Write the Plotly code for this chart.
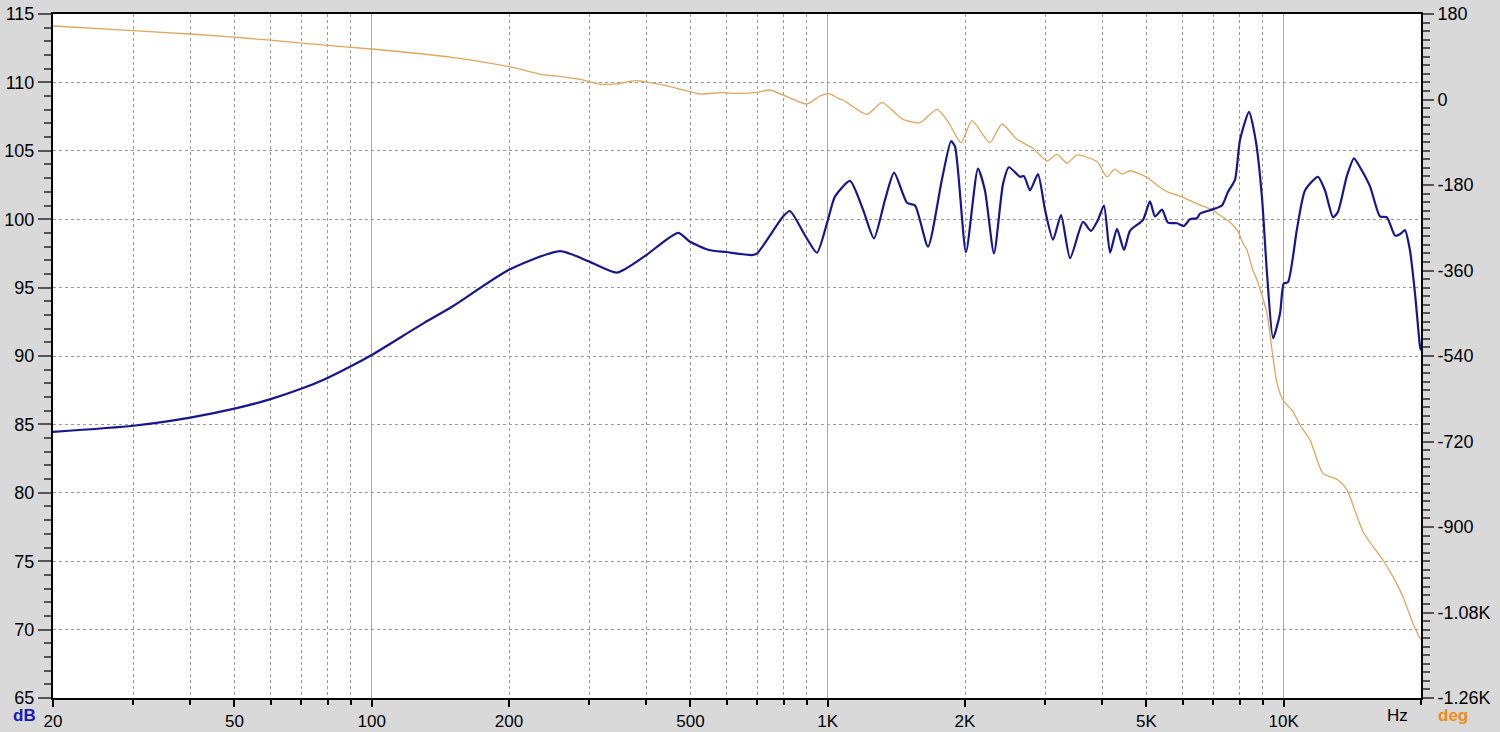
import plotly.graph_objects as go
import math

# ---- data ----
mag_freq = [20, 30, 40, 50, 60, 70, 80, 90, 100, 130, 150, 200, 259, 300, 345, 397, 470, 499, 549, 598,
            682, 700, 798, 826, 896, 947, 1000, 1037, 1119, 1195, 1263, 1335, 1398, 1492, 1554, 1659,
            1780, 1864, 1902, 2010, 2135, 2212, 2315, 2424, 2497, 2640, 2694, 2777, 2891, 2995, 3120,
            3248, 3400, 3630, 3778, 3914, 4035, 4160, 4308, 4464, 4600, 4914, 5089, 5220, 5408, 5574,
            5834, 6044, 6230, 6454, 6552, 6960, 7320, 7548, 7820, 8020, 8393, 8690, 8960, 9190, 9475,
            9814, 10000, 10218, 10694, 11134, 11887, 12318, 12830, 13154, 13766, 14260, 14696, 15460,
            16260, 16840, 17540, 17990, 18440, 18910, 19400, 19900, 20000]
mag_db = [84.45, 84.9, 85.5, 86.15, 86.85, 87.6, 88.4, 89.25, 90.07, 92.4, 93.6, 96.3, 97.67, 96.9, 96.1,
          97.3, 99.0, 98.35, 97.75, 97.6, 97.38, 97.5, 100.2, 100.6, 98.7, 97.55, 99.9, 101.65, 102.8,
          100.7, 98.6, 101.4, 103.4, 101.2, 101.0, 98.0, 102.9, 105.7, 105.3, 97.6, 103.7, 102.1, 97.5,
          102.6, 103.8, 103.1, 103.15, 102.1, 103.3, 100.7, 98.5, 100.3, 97.15, 99.8, 99.15, 99.95,
          101.0, 97.55, 99.3, 97.75, 99.15, 99.95, 101.3, 100.2, 100.7, 99.75, 99.7, 99.5, 100.0,
          100.07, 100.4, 100.7, 101.0, 102.0, 102.9, 105.8, 107.85, 105.67, 101.6, 96.05, 91.3, 93.1,
          95.3, 95.4, 99.3, 102.1, 103.1, 102.1, 100.14, 100.55, 103.2, 104.45, 103.8, 102.4, 100.2,
          100.14, 98.8, 98.9, 99.2, 97.75, 94.6, 90.7, 90.4]

phase_freq = [20, 30, 40, 60, 81, 100, 150, 200, 235, 250, 283, 300, 317, 331, 345, 368, 382, 408, 467,
              525, 580, 642, 700, 747, 814, 901, 962, 1011, 1053, 1080, 1219, 1315, 1462, 1593, 1736,
              1836, 1960, 2072, 2268, 2410, 2600, 2820, 3026, 3182, 3348, 3520, 3896, 4096, 4260, 4420,
              4600, 5012, 5354, 5546, 6014, 6552, 6998, 7140, 7510, 7740, 7940, 8140, 8306, 8560, 8740,
              9190, 9424, 9666, 9964, 10480, 10856, 11420, 12194, 13154, 13766, 14920, 16500, 17360,
              18256, 19200, 19900, 20000]
phase_deg = [154.7, 144.9, 137.9, 125, 113.3, 106.3, 88.8, 69, 53, 50, 43.2, 37.5, 32, 32, 33, 38, 39.6,
             35.4, 23.6, 11.6, 14.3, 13, 15, 20, 5.9, -9.5, 7.4, 12, 2.5, -1, -31.2, -6.7, -41.7, -48.8,
             -20.6, -46.7, -90.9, -44.6, -90.9, -51.6, -83.8, -102.7, -129.5, -115.4, -134.3, -116.8,
             -131, -163, -146.5, -157, -150, -163.8, -184.9, -194, -205.9, -222, -232.6, -239.6, -253.7,
             -264.2, -278.3, -302.7, -316.8, -360, -380, -450, -527, -597, -632.6, -657.3, -685.3,
             -716.8, -787, -801, -822, -909.9, -969.5, -1004.6, -1046.7, -1102.8, -1134.4, -1136]

x_tickvals = [20, 50, 100, 200, 500, 1000, 2000, 5000, 10000]
x_ticktext = ["20", "50", "100", "200", "500", "1K", "2K", "5K", "10K"]
db_ticks = [65, 70, 75, 80, 85, 90, 95, 100, 105, 110, 115]
deg_tickvals = [180, 0, -180, -360, -540, -720, -900, -1080, -1260]
deg_ticktext = ["180", "0", "-180", "-360", "-540", "-720", "-900", "-1.08K", "-1.26K"]

# grid positions (layout only)
minor_grid = [m * d for d in (10, 100, 1000, 10000) for m in range(2, 10)
              if 20 <= m * d <= 20000 and m * d not in (100, 1000, 10000)]
decades = [100, 1000, 10000]

FONT = "Liberation Sans, Arial, sans-serif"
BLUE = "#16168f"
ORANGE = "#dfa65c"
GRID = "#9a9a9a"

fig = go.Figure()
fig.add_trace(go.Scatter(x=phase_freq, y=phase_deg, mode="lines", xaxis="x", yaxis="y",
                         line=dict(color=ORANGE, width=1.3, shape="spline", smoothing=0.6),
                         hoverinfo="skip", showlegend=False))
fig.add_trace(go.Scatter(x=mag_freq, y=mag_db, mode="lines", xaxis="x2", yaxis="y2",
                         line=dict(color=BLUE, width=2.2, shape="spline", smoothing=0.6),
                         hoverinfo="skip", showlegend=False))

xr = [math.log10(20), math.log10(20000)]
LBL_Y = -0.026

fig.update_layout(
    width=1500, height=732,
    paper_bgcolor="#d9d9d9", plot_bgcolor="white",
    margin=dict(l=53, r=79, t=14, b=34, autoexpand=False),
    font=dict(family=FONT, size=17, color="black"),
    xaxis=dict(type="log", range=xr, tickvals=x_tickvals, ticktext=x_ticktext, automargin=False,
               showgrid=False, showline=True, linecolor="black", linewidth=2, mirror=True,
               ticks="outside", ticklen=7, tickwidth=1.5, tickcolor="black", zeroline=False,
               minor=dict(tickvals=minor_grid, showgrid=True, griddash="3px,3px", gridcolor=GRID,
                          gridwidth=1, ticks="outside", ticklen=5, tickcolor="black")),
    xaxis2=dict(type="log", range=xr, overlaying="x", tickvals=decades, showticklabels=False,
                automargin=False, ticks="", showgrid=True, gridcolor="#a8a8a8", gridwidth=1.2,
                showline=False, zeroline=False),
    yaxis=dict(range=[-1260, 180], side="right", tickvals=deg_tickvals, ticktext=deg_ticktext,
               automargin=False, showgrid=False, showline=True, linecolor="black", linewidth=2,
               zeroline=False, ticks="outside", ticklen=11, tickwidth=1.5, tickcolor="#555",
               tickfont=dict(size=18),
               minor=dict(dtick=18, tick0=0, ticks="outside", ticklen=7, tickcolor="#555", showgrid=False)),
    yaxis2=dict(range=[65, 115], side="left", overlaying="y", tickvals=db_ticks, automargin=False,
                showgrid=True, griddash="3px,3px", gridcolor=GRID, gridwidth=1,
                showline=True, linecolor="black", linewidth=2, zeroline=False,
                ticks="outside", ticklen=13, tickwidth=1.5, tickcolor="#555",
                tickfont=dict(size=18),
                minor=dict(dtick=1, tick0=65, ticks="outside", ticklen=7, tickcolor="#555", showgrid=False)),
    annotations=[
        dict(text="<b>dB</b>", xref="paper", yref="paper", x=-0.0205, y=LBL_Y, showarrow=False,
             font=dict(family=FONT, size=17, color="#1a1ab4"), xanchor="center", yanchor="middle"),
        dict(text="Hz", xref="paper", yref="paper", x=0.9825, y=LBL_Y, showarrow=False,
             font=dict(family=FONT, size=17, color="black"), xanchor="center", yanchor="middle"),
        dict(text="<b>deg</b>", xref="paper", yref="paper", x=1.0234, y=LBL_Y, showarrow=False,
             font=dict(family=FONT, size=17, color="#f08a1c"), xanchor="center", yanchor="middle"),
    ],
)

fig.write_html("out.html", config={"displayModeBar": False},
               post_script="document.body.style.margin='0';document.body.style.overflow='hidden';"
                           "document.body.style.background='#d9d9d9';")
